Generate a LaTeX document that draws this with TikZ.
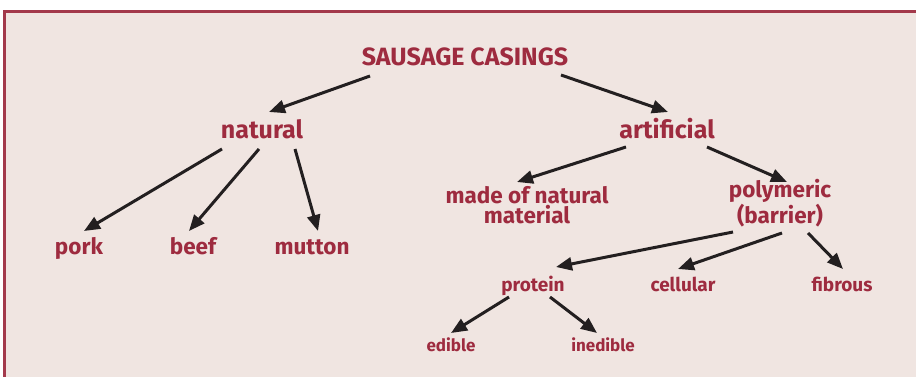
\documentclass[tikz,border=0pt]{standalone}
\usepackage{fontspec}
\setmainfont{Fira Sans}
\usepackage{tikz}
\usetikzlibrary{arrows.meta,calc}

\definecolor{casingred}{HTML}{9E2B3F}
\definecolor{framered}{HTML}{A3394B}
\definecolor{casingbg}{HTML}{F0E5E1}
\definecolor{arrowblack}{HTML}{231F20}

\begin{document}
\begin{tikzpicture}[
        x=1pt, y=-1pt,
        lbl/.style={anchor=base, inner sep=0pt, text=casingred, font=\bfseries, align=center},
        top/.style={lbl, font=\fontsize{25}{28}\selectfont\bfseries},
        mid/.style={lbl, font=\fontsize{22.5}{20}\selectfont\bfseries},
        low/.style={lbl, font=\fontsize{19}{21}\selectfont\bfseries},
        tiny/.style={lbl, font=\fontsize{17}{19}\selectfont\bfseries},
        arr/.style={-{Triangle[length=16pt,width=13pt]}, line width=3pt, color=arrowblack}
    ]
    \useasboundingbox (0,0) rectangle (916,377);
    \fill[casingbg] (3,10) rectangle (916,377);
    \draw[framered, line width=3pt] (4.5,377) -- (4.5,11.5) -- (916,11.5);

    \node[top] (sausage) at (465,66) {SAUSAGE CASINGS};
    \node[top] (natural) at (262,139) {natural};
    \node[top] (artificial) at (667,139) {artificial};
    \node[mid] (pork) at (79,254) {pork};
    \node[mid] (beef) at (193,254) {beef};
    \node[mid] (mutton) at (312,254) {mutton};
    \node[mid] (made) at (527,223) {made of natural\\material};
    \node[mid] (polymeric) at (780,223) {polymeric\\(barrier)};
    \node[low] (protein) at (533,291) {protein};
    \node[low] (cellular) at (683,291) {cellular};
    \node[low] (fibrous) at (842,291) {fibrous};
    \node[tiny] (edible) at (451,351) {edible};
    \node[tiny] (inedible) at (603,351) {inedible};

    \draw[arr] ($(sausage.base)+(-95,10)$) -- ($(natural.base)+(7,-27)$);
    \draw[arr] ($(sausage.base)+(96,9)$) -- ($(artificial.base)+(1,-27)$);
    \draw[arr] ($(natural.base)+(-40,10)$) -- ($(pork.base)+(5,-23)$);
    \draw[arr] ($(natural.base)+(-3,10)$) -- ($(beef.base)+(-4,-23)$);
    \draw[arr] ($(natural.base)+(33,10)$) -- ($(mutton.base)+(6,-23)$);
    \draw[arr] ($(artificial.base)+(-41,8)$) -- ($(made.base)+(-10,-41)$);
    \draw[arr] ($(artificial.base)+(40,8)$) -- ($(polymeric.base)+(7,-41)$);
    \draw[arr] ($(polymeric.base)+(-47,9)$) -- ($(protein.base)+(23,-24)$);
    \draw[arr] ($(polymeric.base)+(2,10)$) -- ($(cellular.base)+(-5,-22)$);
    \draw[arr] ($(polymeric.base)+(28,10)$) -- ($(fibrous.base)+(1,-22)$);
    \draw[arr] ($(protein.base)+(-24,6)$) -- ($(edible.base)+(0,-18)$);
    \draw[arr] ($(protein.base)+(17,6)$) -- ($(inedible.base)+(-6,-18)$);
\end{tikzpicture}
\end{document}
